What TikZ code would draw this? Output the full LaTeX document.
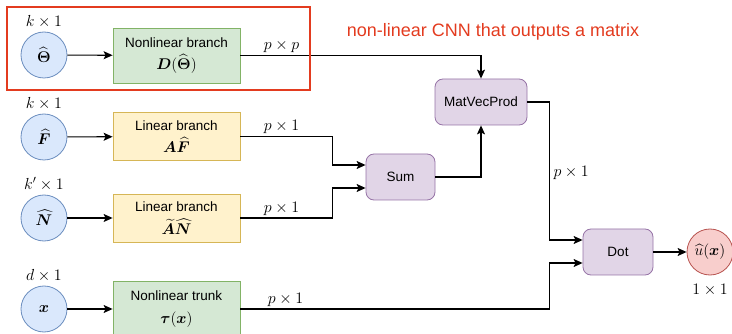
\RequirePackage{fix-cm}
\documentclass[tikz,border=0pt]{standalone}
\usepackage{amsmath, amssymb}
\usepackage{bm}
\usepackage{fontspec}
\setsansfont{Liberation Sans}
\usepackage{xcolor}
\usepackage{tikz}
\usetikzlibrary{arrows.meta, positioning, calc}

\definecolor{inFill}{HTML}{DAE8FC}
\definecolor{inDraw}{HTML}{6C8EBF}
\definecolor{nlFill}{HTML}{D5E8D4}
\definecolor{nlDraw}{HTML}{82B366}
\definecolor{linFill}{HTML}{FFF2CC}
\definecolor{linDraw}{HTML}{D6B656}
\definecolor{opFill}{HTML}{E1D5E7}
\definecolor{opDraw}{HTML}{9673A6}
\definecolor{outFill}{HTML}{F8CECC}
\definecolor{outDraw}{HTML}{B85450}
\definecolor{noteRed}{HTML}{E33B1F}

\newcommand{\boxmath}[1]{{\fontsize{15.5}{18}\selectfont$#1$}}

\tikzset{
    invar/.style={
        circle,
        draw=inDraw,
        fill=inFill,
        line width=0.8pt,
        minimum size=46pt,
        inner sep=0pt,
        font=\fontsize{15.5}{18}\selectfont,
    },
    outvar/.style={
        invar,
        draw=outDraw,
        fill=outFill,
    },
    netbox/.style={
        rectangle,
        line width=0.8pt,
        minimum width=127pt,
        align=center,
        font=\sffamily\fontsize{13.5}{22.5}\selectfont,
        execute at begin node={\rule{0pt}{15pt}},
    },
    nonlin/.style={
        netbox,
        draw=nlDraw,
        fill=nlFill,
        minimum height=55pt,
    },
    lin/.style={
        netbox,
        draw=linDraw,
        fill=linFill,
        minimum height=48pt,
    },
    opbox/.style={
        rectangle,
        rounded corners=8pt,
        draw=opDraw,
        fill=opFill,
        line width=0.8pt,
        minimum height=46pt,
        font=\sffamily\fontsize{13.5}{16}\selectfont,
    },
    dimlbl/.style={
        inner sep=2pt,
        font=\fontsize{16}{18}\selectfont,
    },
}

\begin{document}
\begin{tikzpicture}[x=1pt, y=-1pt, line width=1.1pt,
    >={Stealth[length=9pt, width=8pt, inset=2pt]}]
      \useasboundingbox (0,0) rectangle (732,334);

      % inputs
      \node[invar] (theta) at (44,55) {$\widehat{\bm\Theta}$};
      \node[invar] (fhat) at (44,137) {$\widehat{\bm F}$};
      \node[invar] (nhat) at (44,218) {$\widehat{\bm N}$};
      \node[invar] (xin) at (44,309) {$\bm x$};

      \node[dimlbl, above=1pt of theta] (thetaDim) {$k\times 1$};
      \node[dimlbl, above=1pt of fhat] (fhatDim) {$k\times 1$};
      \node[dimlbl, above=1pt of nhat] (nhatDim) {$k'\times 1$};
      \node[dimlbl, above=1pt of xin] (xinDim) {$d\times 1$};

      % branches and trunk
      \node[nonlin] (nlb) at (176.5,55.5) {Nonlinear branch\\\boxmath{\bm D(\widehat{\bm\Theta})}};
      \node[lin] (lbF) at (176.5,136.5) {Linear branch\\\boxmath{\bm A\widehat{\bm F}}};
      \node[lin] (lbN) at (176.5,218) {Linear branch\\\boxmath{\widetilde{\bm A}\widehat{\bm N}}};
      \node[nonlin] (trunk) at (176.5,309) {Nonlinear trunk\\\boxmath{\bm\tau(\bm x)}};

      % operations
      \node[opbox, minimum width=69pt] (sum) at (400.5,177) {Sum};
      \node[opbox, minimum width=92pt] (matvec) at (481,102) {MatVecProd};
      \node[opbox, minimum width=70pt] (dot) at (618,252) {Dot};
      \node[outvar] (uhat) at (710,252) {$\widehat{u}(\bm x)$};
      \node[dimlbl, below=6pt of uhat] (uhatDim) {$1\times 1$};

      % connectors
      \draw[->] (theta) -- (nlb);
      \draw[->] (fhat) -- (lbF);
      \draw[->] (nhat) -- (lbN);
      \draw[->] (xin) -- (trunk);

      \draw[->] (nlb.east) -| (matvec.north);
      \draw[->] (lbF.east) -- ++(92,0) |- ([yshift=12pt]sum.west);
      \draw[->] (lbN.east) -- ++(92,0) |- ([yshift=-11pt]sum.west);
      \draw[->] (sum.east) -| (matvec.south);
      \draw[->] (matvec.east) -- ++(22,0) |- ([yshift=12pt]dot.west);
      \draw[->] (trunk.east) -- ++(309,0) |- ([yshift=-11pt]dot.west);
      \draw[->] (dot) -- (uhat);

      \node[dimlbl, above right=0pt and 21pt of nlb.east] (nlbDim) {$p\times p$};
      \node[dimlbl, above right=0pt and 21pt of lbF.east] (lbFDim) {$p\times 1$};
      \node[dimlbl, above right=0pt and 21pt of lbN.east] (lbNDim) {$p\times 1$};
      \node[dimlbl, above right=0pt and 25pt of trunk.east] (trunkDim) {$p\times 1$};
      \node[dimlbl, anchor=west] (matvecDim) at (551,173) {$p\times 1$};

      % highlighted part
      \draw[noteRed, line width=2.5pt] (7,7) rectangle (310,90);
      \node[text=noteRed, font=\sffamily\fontsize{18}{20}\selectfont] (note) at (493,32)
          {non-linear CNN that outputs a matrix};

    \end{tikzpicture}
\end{document}
